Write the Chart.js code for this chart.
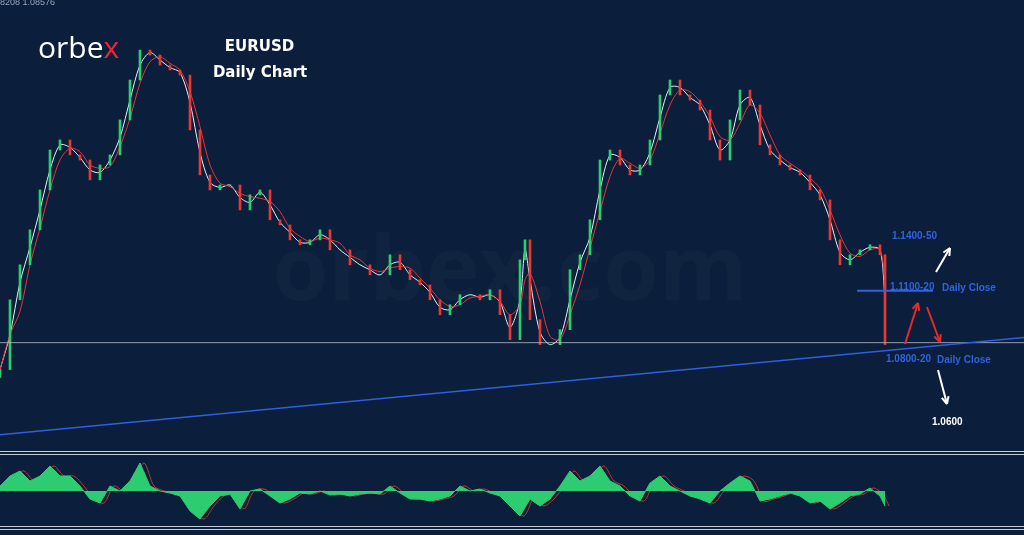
<!DOCTYPE html>
<html><head><meta charset="utf-8">
<script src="https://cdn.jsdelivr.net/npm/chart.js@4/dist/chart.umd.min.js"></script>
<style>
body{margin:0;background:#0b1e3b;width:1024px;height:535px;overflow:hidden;position:relative;font-family:"Liberation Sans",Arial,sans-serif}
#c1{position:absolute;left:0;top:0}
#c2{position:absolute;left:0;top:456px}
.ln{position:absolute;left:0;width:1024px;border-top:1px solid #c8ccd4;height:2px;border-bottom:1px solid #c8ccd4}
.t{position:absolute;color:#fff;font-weight:bold}
</style></head><body>
<canvas id="c1" width="1024" height="450"></canvas>
<div class="ln" style="top:451px"></div>
<canvas id="c2" width="1024" height="70"></canvas>
<div class="ln" style="top:526px"></div>
<div class="t" style="left:0;top:-3px;font-size:9px;font-weight:normal;color:#9aa3b3">8208 1.08576</div>
<div class="t" style="left:38px;top:26px;font-size:30px;font-weight:normal;font-family:'Open Sans',sans-serif">orbe<span style="color:#e8283a">x</span></div>
<div class="t" style="left:212px;top:37px;font-size:15px;width:95px;text-align:center;font-family:'DejaVu Sans',sans-serif">EURUSD</div>
<div class="t" style="left:205px;top:63px;font-size:15px;width:110px;text-align:center;font-family:'DejaVu Sans',sans-serif">Daily Chart</div>
<script>
// trading-day index and closing prices
const days=[0,10,20,30,40,50,60,70,80,90,100,110,120,130,140,150,160,170,180,190,200,210,220,230,240,250,260,270,280,290,300,310,320,330,340,350,360,370,380,390,400,410,420,430,440,450,460,470,480,490,500,510,520,525,530,540,550,560,570,580,590,600,610,620,630,640,650,660,670,680,690,700,710,720,730,740,750,760,770,780,790,800,810,820,830,840,850,860,870,880,885];
const closes=[1.0699,1.1054,1.1232,1.1410,1.1613,1.1816,1.1867,1.1791,1.1765,1.1664,1.1740,1.1791,1.1969,1.2172,1.2324,1.2299,1.2248,1.2223,1.2197,1.1918,1.1689,1.1613,1.1638,1.1638,1.1511,1.1588,1.1613,1.1461,1.1435,1.1359,1.1334,1.1359,1.1410,1.1308,1.1308,1.1232,1.1232,1.1181,1.1181,1.1283,1.1207,1.1156,1.1130,1.1054,1.0978,1.1029,1.1080,1.1080,1.1054,1.1105,1.0978,1.0851,1.1257,1.1359,1.0953,1.0826,1.0826,1.0902,1.1207,1.1283,1.1461,1.1765,1.1816,1.1740,1.1689,1.1740,1.1867,1.2096,1.2172,1.2096,1.2070,1.2019,1.1867,1.1765,1.1969,1.2121,1.2045,1.1842,1.1791,1.1740,1.1715,1.1689,1.1613,1.1562,1.1359,1.1232,1.1283,1.1308,1.1334,1.1283,1.0826];
const oscDays=[0,10,20,30,40,50,60,70,80,90,100,110,120,130,140,150,160,170,180,190,200,210,220,230,240,250,260,270,280,290,300,310,320,330,340,350,360,370,380,390,400,410,420,430,440,450,460,470,480,490,500,510,520,530,540,550,560,570,580,590,600,610,620,630,640,650,660,670,680,690,700,710,720,730,740,750,760,770,780,790,800,810,820,830,840,850,860,870,880,885];
const oscVals=[5,15,20,10,15,25,15,15,5,-8,-12,5,0,10,28,5,0,-2,-5,-20,-28,-15,-5,-3,-18,0,2,-5,-12,-8,-2,-3,0,-4,-3,-5,-3,-2,-3,5,-2,-8,-8,-10,-8,-5,5,0,2,-2,-5,-15,-25,-8,-15,-8,5,20,10,15,25,10,5,-5,-10,8,15,5,0,-5,-8,-12,0,8,15,10,-10,-8,-5,-2,-5,-12,-10,-18,-12,-5,-3,3,-5,-15];
const trendLine=[[0,1.0368],[1024,1.0862]];
const priceLine=1.0836, support=1.1100;

const candles=closes.map((c,i)=>({x:days[i],y:[i?closes[i-1]:c-0.004,c]}));
const ma=(a,n)=>a.map((v,i)=>{const s=a.slice(Math.max(0,i-n+1),i+1);return s.reduce((p,q)=>p+q,0)/s.length;});
const ma1=ma(closes,2),ma2=ma(closes,3);

const overlay={id:'ov',beforeDatasetsDraw(ch){
 const c=ch.ctx;c.save();
 c.font='bold 90px "Open Sans",sans-serif';c.fillStyle='rgba(255,255,255,0.025)';c.textAlign='center';c.fillText('orbex.com',510,300);
 c.restore();},
 afterDraw(ch){
 const c=ch.ctx,x=ch.scales.x,y=ch.scales.y;
 c.save();
 c.strokeStyle='#2f63e0';c.lineWidth=2;c.beginPath();c.moveTo(x.getPixelForValue(857),y.getPixelForValue(support));c.lineTo(x.getPixelForValue(933),y.getPixelForValue(support));c.stroke();
 const arrow=(x1,y1,x2,y2,col)=>{c.strokeStyle=col;c.lineWidth=2;c.beginPath();c.moveTo(x1,y1);c.lineTo(x2,y2);c.stroke();
  const a=Math.atan2(y2-y1,x2-x1);c.beginPath();c.moveTo(x2,y2);c.lineTo(x2-8*Math.cos(a-0.45),y2-8*Math.sin(a-0.45));c.moveTo(x2,y2);c.lineTo(x2-8*Math.cos(a+0.45),y2-8*Math.sin(a+0.45));c.stroke();};
 arrow(936,272,950,248,'#fff');arrow(905,344,918,303,'#e52b2b');arrow(927,307,940,342,'#e52b2b');arrow(938,370,947,404,'#fff');
 c.textAlign='left';c.font='bold 10px "Liberation Sans",Arial,sans-serif';
 c.fillStyle='#2f63e0';c.fillText('1.1400-50',892,239);c.fillText('1.1100-20',890,290);c.fillText('1.0800-20',886,362);
 c.fillText('Daily Close',942,291);c.fillText('Daily Close',937,363);
 c.fillStyle='#fff';c.fillText('1.0600',932,425);
 c.restore();}};

new Chart(document.getElementById('c1'),{data:{datasets:[
 {type:'line',data:trendLine.map(p=>({x:p[0],y:p[1]})),borderColor:'#2f5fe0',borderWidth:1.5,pointRadius:0},
 {type:'line',data:[{x:0,y:priceLine},{x:1024,y:priceLine}],borderColor:'#b8bcc6',borderWidth:0.8,pointRadius:0},
 {type:'bar',data:candles,backgroundColor:candles.map(d=>d.y[1]>=d.y[0]?'#2ecc71':'#e53935'),barThickness:2,grouped:false},
 {type:'line',data:ma2.map((v,i)=>({x:days[i],y:v})),borderColor:'#e53935',borderWidth:1,pointRadius:0,tension:0.3},
 {type:'line',data:ma1.map((v,i)=>({x:days[i],y:v})),borderColor:'#e8f0ff',borderWidth:1,pointRadius:0,tension:0.3}
]},options:{responsive:false,animation:false,layout:{padding:0},plugins:{legend:{display:false},tooltip:{enabled:false}},
 scales:{x:{type:'linear',min:0,max:1024,offset:false,display:false},y:{min:1.029,max:1.2579,display:false}}},plugins:[overlay]});

new Chart(document.getElementById('c2'),{type:'line',data:{datasets:[
 {data:oscVals.map((v,i)=>({x:oscDays[i],y:v})),borderColor:'#2ecc71',backgroundColor:'#2ecc71',fill:'origin',pointRadius:0,borderWidth:1},
 {data:oscVals.map((v,i)=>({x:oscDays[i]+4,y:v})),borderColor:'#c0392b',borderWidth:1,pointRadius:0,tension:0.3}
]},options:{responsive:false,animation:false,layout:{padding:0},plugins:{legend:{display:false},tooltip:{enabled:false}},
 scales:{x:{type:'linear',min:0,max:1024,display:false},y:{min:-35,max:35,display:false}}}});
</script></body></html>
